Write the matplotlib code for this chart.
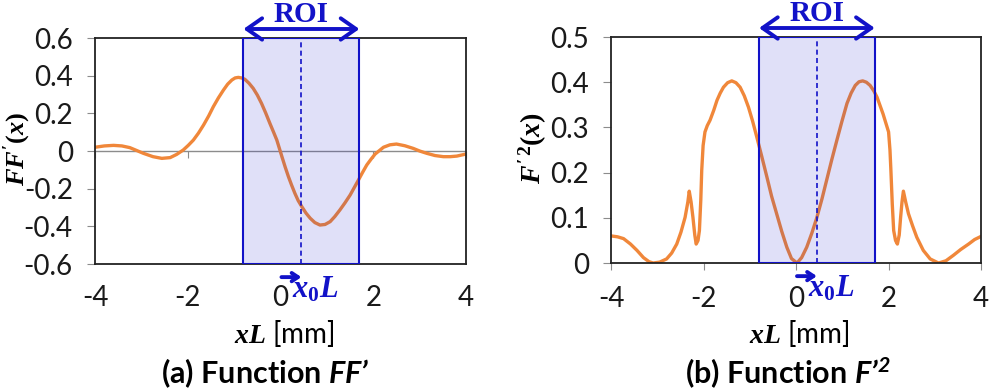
import matplotlib
matplotlib.use('Agg')
import matplotlib.pyplot as plt

plt.rcParams['font.family'] = ['Lato', 'DejaVu Sans']
plt.rcParams['mathtext.fontset'] = 'custom'
plt.rcParams['mathtext.it'] = 'Liberation Serif:italic:bold'
plt.rcParams['mathtext.rm'] = 'Liberation Serif:bold'
plt.rcParams['mathtext.bf'] = 'Liberation Serif:bold'
plt.rcParams['mathtext.sf'] = 'Lato:italic:bold'

# (a) FF'(x), values
xa = [-4.0, -3.8, -3.6, -3.42, -3.25, -2.96, -2.75, -2.56, -2.38, -2.24, -2.10,
      -1.99, -1.88, -1.77, -1.66, -1.55, -1.45, -1.34, -1.23, -1.14, -1.05,
      -0.98, -0.91, -0.84, -0.77, -0.68, -0.59, -0.50, -0.41, -0.32, -0.23,
      -0.15, -0.08, 0.03, 0.10, 0.17, 0.24, 0.31, 0.38, 0.46, 0.55, 0.64,
      0.74, 0.85, 0.96, 1.07, 1.17, 1.28, 1.39, 1.50, 1.59, 1.68, 1.77, 1.86,
      1.95, 2.04, 2.13, 2.22, 2.36, 2.50, 2.68, 2.86, 3.0, 3.15, 3.33, 3.51,
      3.66, 3.80, 4.0]
ya = [0.020, 0.027, 0.030, 0.027, 0.018, -0.012, -0.030, -0.039, -0.035,
      -0.018, 0.005, 0.030, 0.058, 0.095, 0.138, 0.186, 0.235, 0.282, 0.324,
      0.355, 0.377, 0.388, 0.391, 0.388, 0.381, 0.36, 0.333, 0.297, 0.253,
      0.202, 0.147, 0.10, 0.058, -0.030, -0.085, -0.136, -0.182, -0.225,
      -0.263, -0.296, -0.330, -0.357, -0.380, -0.393, -0.390, -0.375, -0.348,
      -0.313, -0.275, -0.234, -0.194, -0.154, -0.113, -0.074, -0.044, -0.016,
      0.002, 0.020, 0.033, 0.037, 0.028, 0.014, 0.0, -0.012, -0.024, -0.030,
      -0.030, -0.027, -0.016]

# (b) F'^2(x)
xb = [-4.0, -3.86, -3.73, -3.58, -3.44, -3.30, -3.18, -3.09, -2.95, -2.80,
      -2.69, -2.58, -2.49, -2.40, -2.34, -2.31, -2.27, -2.23, -2.19, -2.16,
      -2.12, -2.09, -2.06, -2.04, -2.01, -1.97, -1.92, -1.86, -1.78, -1.71,
      -1.64, -1.57, -1.48, -1.39, -1.30, -1.21, -1.12, -1.03, -0.94, -0.85,
      -0.74, -0.63, -0.53, -0.42, -0.31, -0.20, -0.10, 0.02, 0.12, 0.23, 0.34,
      0.45, 0.56, 0.66, 0.77, 0.88, 0.99, 1.10, 1.19, 1.28, 1.36, 1.44, 1.52,
      1.60, 1.68, 1.75, 1.88, 2.00, 2.03, 2.05, 2.08, 2.11, 2.15, 2.19, 2.23,
      2.26, 2.29, 2.32, 2.37, 2.43, 2.52, 2.61, 2.75, 2.90, 3.08, 3.24, 3.40,
      3.56, 3.73, 3.86, 4.0]
yb = [0.060, 0.058, 0.054, 0.042, 0.028, 0.012, 0.003, 0.0, 0.002, 0.009,
      0.022, 0.042, 0.068, 0.101, 0.135, 0.159, 0.135, 0.101, 0.062, 0.042,
      0.050, 0.072, 0.14, 0.205, 0.26, 0.290, 0.304, 0.316, 0.338, 0.360,
      0.376, 0.389, 0.399, 0.403, 0.399, 0.389, 0.370, 0.345, 0.314, 0.279,
      0.235, 0.190, 0.148, 0.109, 0.070, 0.035, 0.010, 0.0, 0.012, 0.035,
      0.066, 0.101, 0.142, 0.183, 0.228, 0.271, 0.313, 0.353, 0.376, 0.393,
      0.401, 0.403, 0.400, 0.393, 0.381, 0.367, 0.330, 0.290, 0.25, 0.205,
      0.13, 0.072, 0.050, 0.042, 0.062, 0.101, 0.135, 0.159, 0.135, 0.109,
      0.082, 0.057, 0.028, 0.009, 0.0, 0.005, 0.017, 0.030, 0.042, 0.052,
      0.059]

roi = (-0.8, 1.7)
x0 = 0.45

xticks = [-4, -2, 0, 2, 4]
xtick_labels = ['-4', '-2', '0', '2', '4']
yticks_a = [-0.6, -0.4, -0.2, 0, 0.2, 0.4, 0.6]
ytick_labels_a = ['-0.6', '-0.4', '-0.2', '0', '0.2', '0.4', '0.6']
yticks_b = [0, 0.1, 0.2, 0.3, 0.4, 0.5]
ytick_labels_b = ['0', '0.1', '0.2', '0.3', '0.4', '0.5']

orange = '#F0873A'
blue = '#1212C8'
grey = '#8C8C8C'

fig = plt.figure(figsize=(9.92, 3.92), dpi=100)
ax1 = fig.add_axes([0.0958, 0.3265, 0.374, 0.5765])
ax2 = fig.add_axes([0.616, 0.329, 0.373, 0.5765])


def decorate(ax):
    for s in ax.spines.values():
        s.set_color('#222222')
        s.set_linewidth(1.3)
    ax.set_xlim(-4, 4)
    ax.set_xticks(xticks, xtick_labels)
    ax.tick_params(axis='y', direction='out', length=6, color=grey,
                   labelsize=20, pad=10, labelcolor='#1a1a1a')
    ax.tick_params(axis='x', labelsize=20, labelcolor='#1a1a1a')
    # ROI shading and frame
    ax.axvspan(roi[0], roi[1], facecolor=(0.08, 0.08, 0.8, 0.13),
               edgecolor=blue, lw=1.5, zorder=3)
    ax.axvline(x0, color=blue, lw=1.2, ls=(0, (3, 2)), zorder=4)
    ax.annotate('', xy=(roi[0], 1.04), xytext=(roi[1], 1.04),
                xycoords=('data', 'axes fraction'),
                arrowprops=dict(arrowstyle='<->,head_length=0.5,head_width=0.35',
                                color=blue, lw=2.8, mutation_scale=22,
                                shrinkA=0, shrinkB=0),
                annotation_clip=False)
    ax.text(x0, 1.105, 'ROI', transform=ax.get_xaxis_transform(),
            ha='center', va='center', color=blue, fontsize=21,
            family='Liberation Serif', weight='bold')
    ax.annotate('', xy=(x0, -0.058), xytext=(0.02, -0.058),
                xycoords=('data', 'axes fraction'),
                arrowprops=dict(arrowstyle='->,head_length=0.45,head_width=0.3',
                                color=blue, lw=2.8, shrinkA=0, shrinkB=0),
                annotation_clip=False)
    ax.text(0.25, -0.15, r'$x_{\mathrm{0}}L$', transform=ax.get_xaxis_transform(),
            ha='left', va='baseline', color=blue, fontsize=22)


# (a)
ax1.plot(xa, ya, color=orange, lw=2.4, zorder=2)
ax1.set_ylim(-0.6, 0.6)
ax1.set_yticks(yticks_a, ytick_labels_a)
ax1.axhline(0, color=grey, lw=1.0, zorder=1)
ax1.tick_params(axis='x', length=0, pad=15)
sec = ax1.secondary_xaxis(0.5)
sec.set_xticks(xticks)
sec.xaxis.set_ticks_position('bottom')
sec.tick_params(axis='x', direction='out', length=5, color=grey,
                labelbottom=False, labeltop=False)
for s in sec.spines.values():
    s.set_visible(False)
decorate(ax1)

# (b)
ax2.plot(xb, yb, color=orange, lw=2.4, zorder=2)
ax2.set_ylim(0, 0.5)
ax2.set_yticks(yticks_b, ytick_labels_b)
ax2.tick_params(axis='x', direction='out', length=5, color=grey, pad=11.5)
decorate(ax2)

# axis labels
fig.text(0.0175, 0.620, r"$FF'(x)$", rotation=90, ha='center', va='center',
         fontsize=19)
fig.text(0.537, 0.622, r"$F^{\prime\,2}(x)$", rotation=90, ha='center',
         va='center', fontsize=20)
fig.text(0.287, 0.150, r'$xL$ [mm]', ha='center', va='center', fontsize=20)
fig.text(0.806, 0.150, r'$xL$ [mm]', ha='center', va='center', fontsize=20)

# captions
fig.text(0.267, 0.048, '(a) Function $\\mathsf{FF\u2019}$', ha='center',
         va='center', fontsize=22, weight='bold')
fig.text(0.794, 0.048, '(b) Function $\\mathsf{F\u2019^{2}}$', ha='center',
         va='center', fontsize=22, weight='bold')

fig.savefig('out.png', dpi=100)
